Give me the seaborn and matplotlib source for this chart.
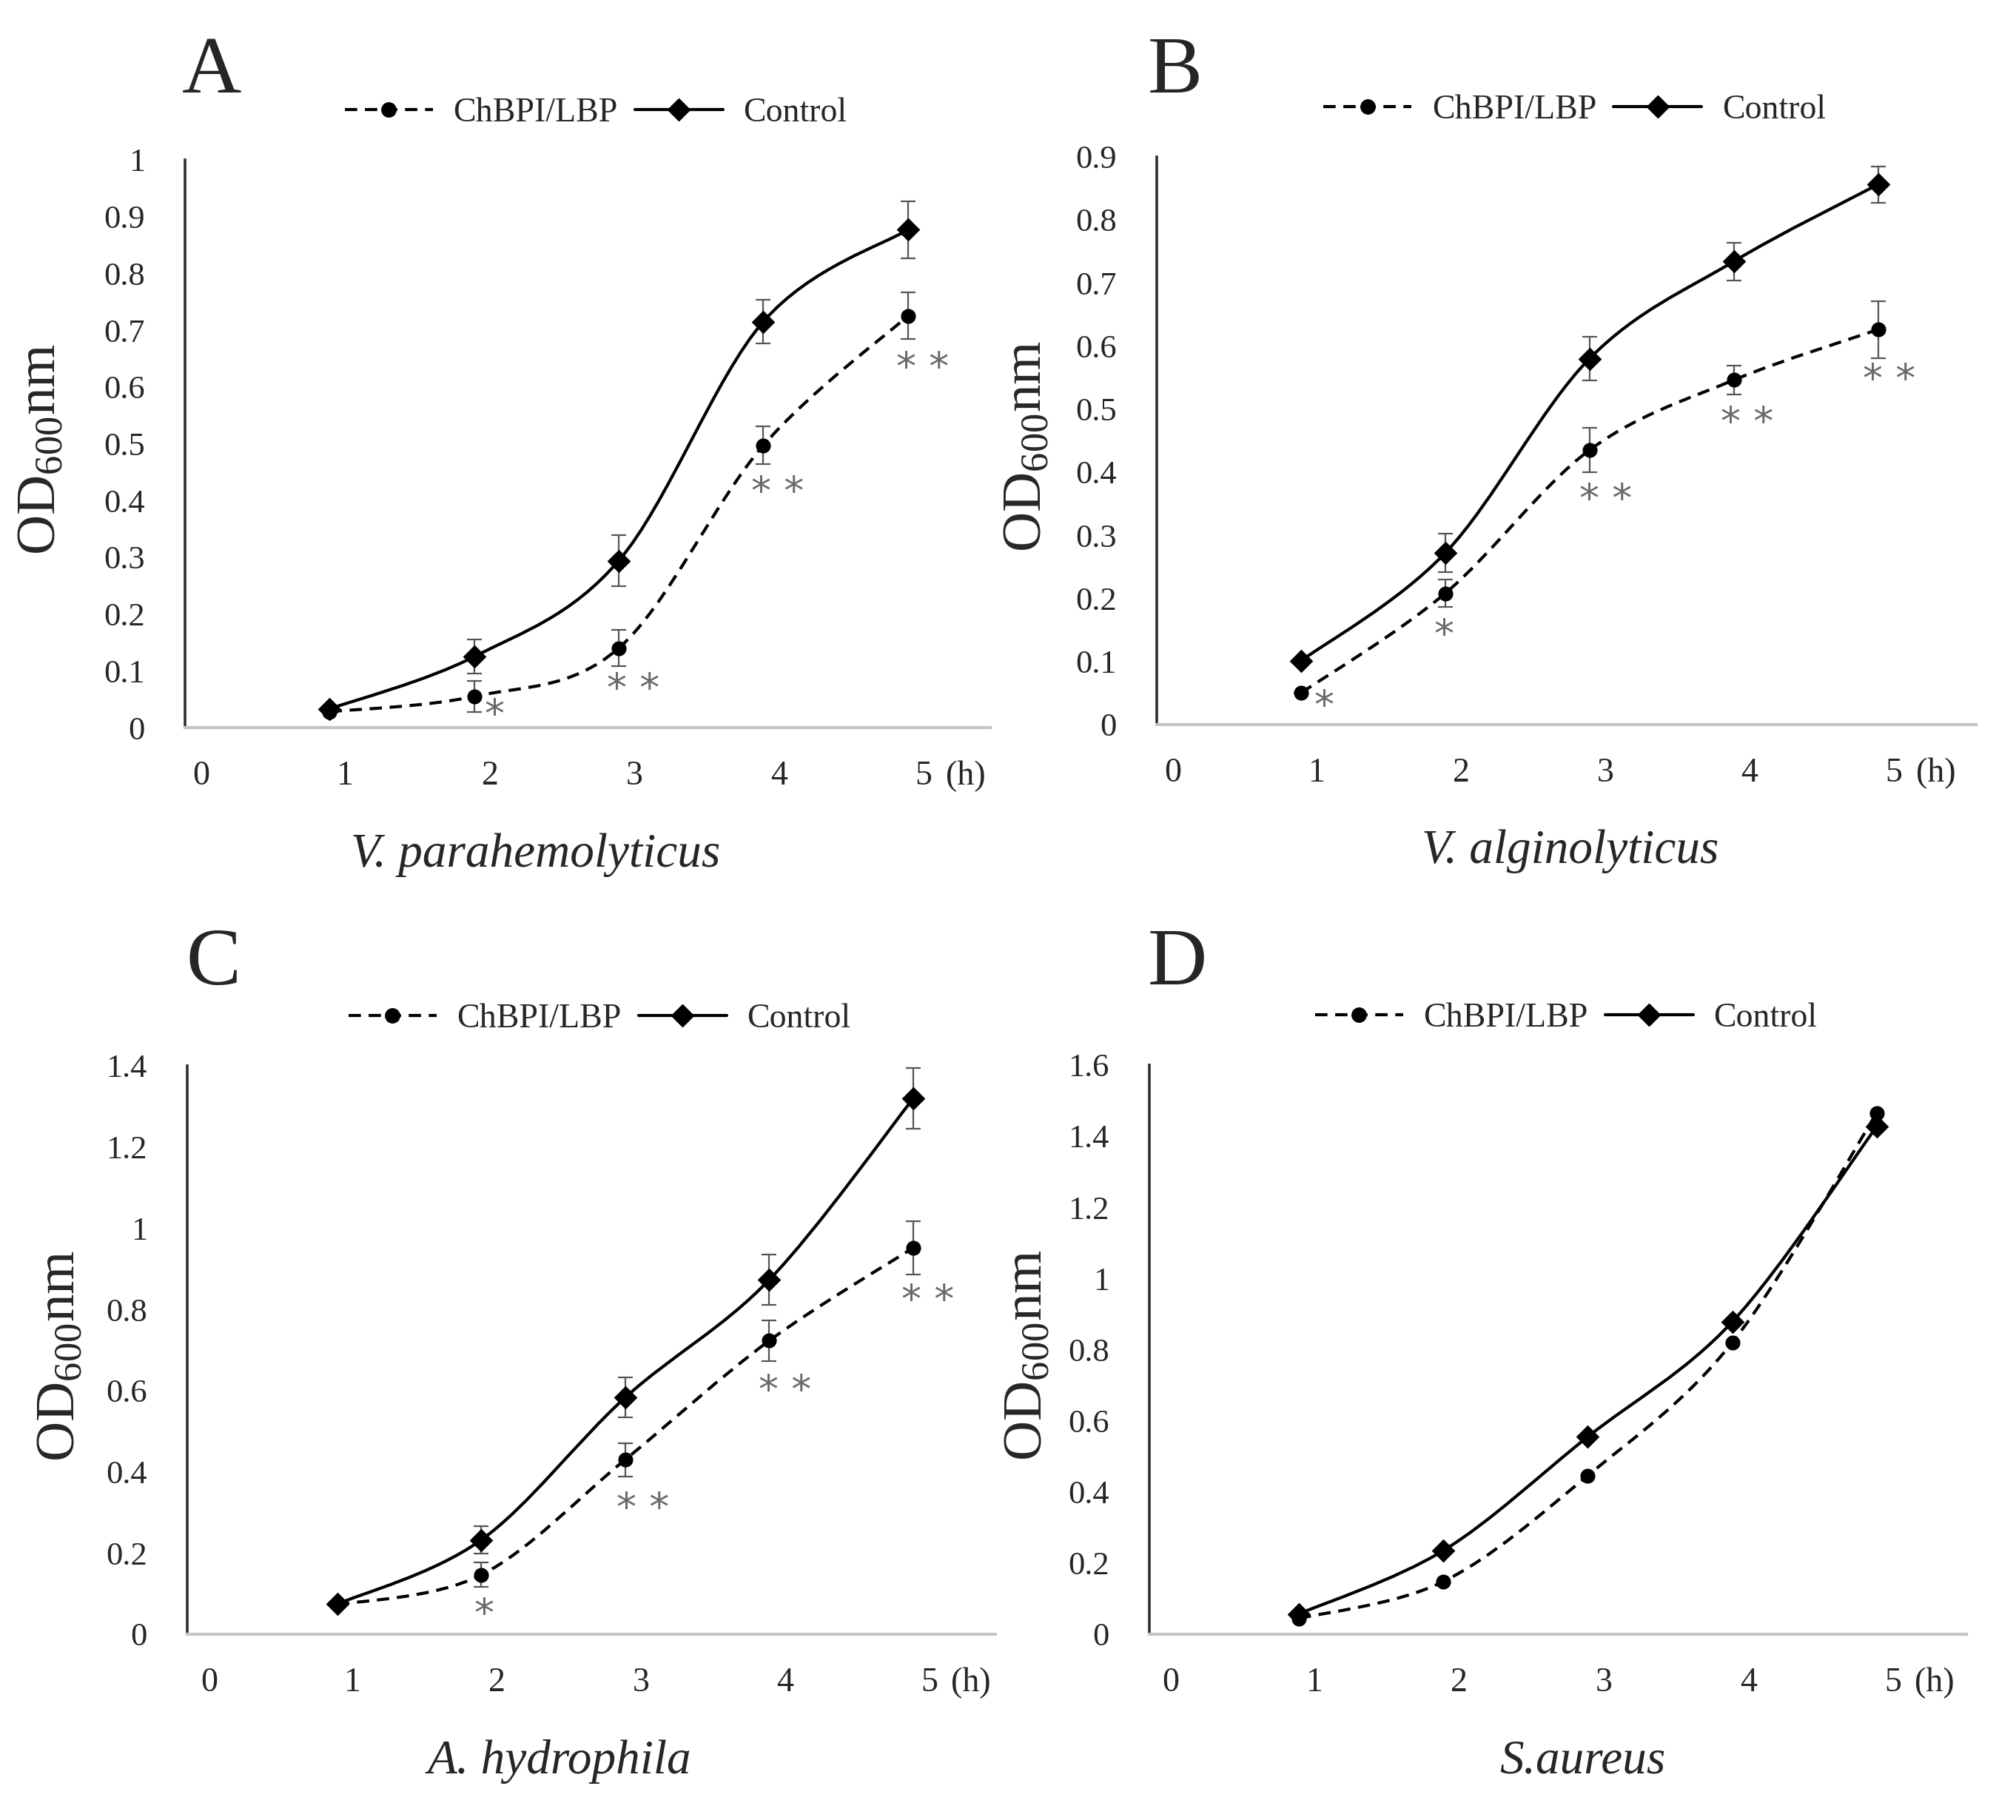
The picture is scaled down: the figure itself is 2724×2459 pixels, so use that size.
import numpy as np
import matplotlib
matplotlib.use("Agg")
import matplotlib.pyplot as plt
import seaborn as sns
from matplotlib.path import Path
from matplotlib.patches import PathPatch
from matplotlib.lines import Line2D

# Datos (OD600 por hora)
# ==============================================================================
hours = [1, 2, 3, 4, 5]
panel_letters = ["A", "B", "C", "D"]
species = ["V. parahemolyticus", "V. alginolyticus", "A. hydrophila", "S.aureus"]

bpi_A = [0.028, 0.055, 0.140, 0.497, 0.725]
bpi_A_err = [0.0, 0.027, 0.032, 0.033, 0.041]
ctl_A = [0.033, 0.125, 0.294, 0.715, 0.877]
ctl_A_err = [0.0, 0.030, 0.045, 0.038, 0.050]

bpi_B = [0.050, 0.208, 0.435, 0.546, 0.626]
bpi_B_err = [0.0, 0.022, 0.035, 0.023, 0.045]
ctl_B = [0.101, 0.272, 0.580, 0.734, 0.856]
ctl_B_err = [0.0, 0.030, 0.035, 0.030, 0.029]

bpi_C = [0.072, 0.146, 0.430, 0.723, 0.952]
bpi_C_err = [0.0, 0.030, 0.041, 0.050, 0.066]
ctl_C = [0.074, 0.232, 0.583, 0.873, 1.320]
ctl_C_err = [0.0, 0.034, 0.049, 0.062, 0.075]

bpi_D = [0.044, 0.148, 0.446, 0.820, 1.465]
ctl_D = [0.057, 0.235, 0.555, 0.878, 1.427]

# asteriscos de significancia (x, y, texto)
stars_A = [(2.14, 0.028, "*"), (3.10, 0.074, "* *"), (4.10, 0.420, "* *"), (5.10, 0.640, "* *")]
stars_B = [(1.16, 0.035, "*"), (1.99, 0.147, "*"), (3.11, 0.362, "* *"), (4.09, 0.484, "* *"), (5.08, 0.552, "* *")]
stars_C = [(2.02, 0.057, "*"), (3.12, 0.318, "* *"), (4.11, 0.608, "* *"), (5.10, 0.830, "* *")]
stars_D = []

y_max = [1.0, 0.9, 1.4, 1.6]
y_step = [0.1, 0.1, 0.2, 0.2]

# Configuracion
# ==============================================================================
sns.set_theme(style="white")
plt.rcParams["font.family"] = ["Liberation Serif", "DejaVu Serif"]
plt.rcParams["mathtext.fontset"] = "custom"
plt.rcParams["mathtext.rm"] = "Liberation Serif"
plt.rcParams["mathtext.it"] = "Liberation Serif:italic"

LW = 3.0
DASH = (0, (4, 2.5))


def smooth_path(x, y):
    # curva suavizada tipo Excel (Bezier por tramos)
    pts = np.column_stack([x, y]).astype(float)
    n = len(pts)
    verts = [pts[0]]
    codes = [Path.MOVETO]
    for i in range(n - 1):
        p0 = pts[max(i - 1, 0)]
        p1 = pts[i]
        p2 = pts[i + 1]
        p3 = pts[min(i + 2, n - 1)]
        c1 = p1 + (p2 - p0) / 6.0
        c2 = p2 - (p3 - p1) / 6.0
        verts += [c1, c2, p2]
        codes += [Path.CURVE4] * 3
    return Path(verts, codes)


fig = plt.figure(figsize=(27.24, 24.59), dpi=100)

positions = [
    [0.0918, 0.6002, 0.3994, 0.3120],
    [0.5738, 0.6019, 0.4064, 0.3120],
    [0.0929, 0.1021, 0.4009, 0.3123],
    [0.5701, 0.1021, 0.4053, 0.3128],
]
xlims = [(0, 5.57), (0, 5.68), (-0.04, 5.57), (-0.035, 5.62)]
ylabel_x = [-0.147, -0.127, -0.125, -0.117]
title_x = [0.435, 0.505, 0.46, 0.53]
letter_xy = [(0.105, 0.960), (0.583, 0.960), (0.106, 0.470), (0.584, 0.470)]

series = [
    (bpi_A, bpi_A_err, ctl_A, ctl_A_err, stars_A),
    (bpi_B, bpi_B_err, ctl_B, ctl_B_err, stars_B),
    (bpi_C, bpi_C_err, ctl_C, ctl_C_err, stars_C),
    (bpi_D, None, ctl_D, None, stars_D),
]

for k, (bpi, bpi_err, ctl, ctl_err, stars) in enumerate(series):
    ax = fig.add_axes(positions[k])

    # lineas suavizadas
    ax.add_patch(PathPatch(smooth_path(hours, ctl), fill=False, lw=LW,
                           edgecolor="black", zorder=2))
    ax.add_patch(PathPatch(smooth_path(hours, bpi), fill=False, lw=LW,
                           edgecolor="black", linestyle=DASH, zorder=2))

    # barras de error
    if ctl_err is not None:
        ax.errorbar(hours, ctl, yerr=ctl_err, fmt="none", ecolor="#555555",
                    elinewidth=1.6, capsize=7, capthick=1.6, zorder=3)
        ax.errorbar(hours, bpi, yerr=bpi_err, fmt="none", ecolor="#555555",
                    elinewidth=1.6, capsize=7, capthick=1.6, zorder=3)

    # marcadores
    sns.scatterplot(x=hours, y=bpi, marker="o", s=210, color="black",
                    edgecolor="black", linewidth=0, ax=ax, zorder=4, legend=False)
    sns.scatterplot(x=hours, y=ctl, marker="D", s=260, color="black",
                    edgecolor="black", linewidth=0, ax=ax, zorder=5, legend=False)

    for sx, sy, st in stars:
        ax.annotate(st, xy=(sx, sy), xytext=(0, -4), textcoords="offset points",
                    ha="center", va="center", fontsize=39, color="#6a6a6a",
                    family="DejaVu Sans")

    # ejes
    ax.set_xlim(*xlims[k])
    ax.set_ylim(0, y_max[k])
    yt = np.round(np.arange(0, y_max[k] + 1e-9, y_step[k]), 2)
    ax.set_yticks(yt)
    ax.set_yticklabels(["%g" % v for v in yt])
    ax.set_xticks(range(0, 6))
    ax.set_xticklabels([])
    ax.set_xticks([i + 0.11 for i in range(0, 6)], minor=True)
    ax.set_xticklabels([str(i) for i in range(0, 6)], minor=True)
    ax.tick_params(axis="x", which="major", length=6, width=1.2, color="#c8c8c8",
                   direction="out")
    ax.tick_params(axis="x", which="minor", length=0, pad=32, labelsize=33)
    ax.tick_params(axis="y", length=9, width=2.2, color="#303030", direction="out",
                   pad=30, labelsize=32)
    ax.annotate("(h)", xy=(5.40, 0), xycoords=("data", "axes fraction"),
                xytext=(0, -32), textcoords="offset points", ha="center",
                va="top", fontsize=33, annotation_clip=False)

    for side in ["top", "right"]:
        ax.spines[side].set_visible(False)
    ax.spines["left"].set_color("#303030")
    ax.spines["left"].set_linewidth(2.6)
    ax.spines["bottom"].set_color("#c4c4c4")
    ax.spines["bottom"].set_linewidth(3.0)

    ax.set_ylabel("OD$_{600}$nm", fontsize=54)
    ax.yaxis.set_label_coords(ylabel_x[k], 0.49)
    ax.set_xlabel(species[k], fontsize=47, style="italic")
    ax.xaxis.set_label_coords(title_x[k], -0.185)

    handles = [
        Line2D([], [], color="black", lw=LW, linestyle=DASH, marker="o", markersize=14),
        Line2D([], [], color="black", lw=LW, marker="D", markersize=15),
    ]
    ax.legend(handles, ["ChBPI/LBP", "Control"], loc="center",
              bbox_to_anchor=(0.51, 1.082), ncol=2, frameon=False, fontsize=33,
              handlelength=2.6, handletextpad=0.6, columnspacing=0.5)

    fig.text(letter_xy[k][0], letter_xy[k][1], panel_letters[k], fontsize=80,
             ha="center", va="center")

fig.savefig("out.png", dpi=100)
